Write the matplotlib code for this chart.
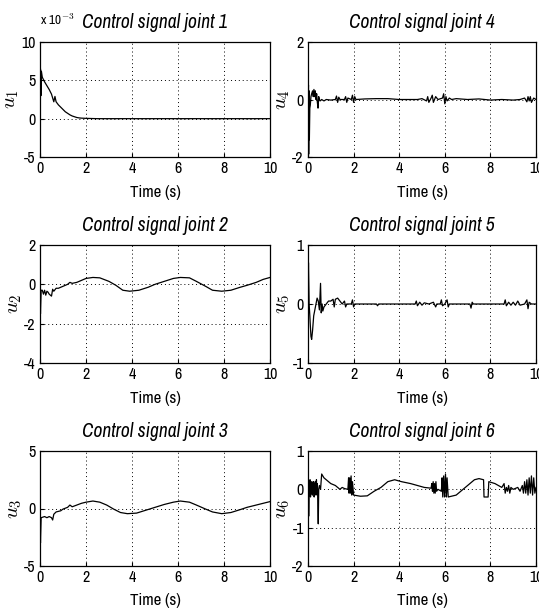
import numpy as np
import matplotlib
matplotlib.use('Agg')
import matplotlib.pyplot as plt

plt.rcParams['font.family'] = ['Archivo Narrow', 'DejaVu Sans']
plt.rcParams['mathtext.fontset'] = 'cm'
plt.rcParams['axes.unicode_minus'] = False

# (time, value) pairs
u1_pts = [(0, 0), (0.02, 6.5), (0.04, 3.0), (0.06, 6.2), (0.1, 5.4), (0.2, 4.8), (0.3, 4.3),
          (0.4, 3.8), (0.5, 3.2), (0.55, 2.7), (0.6, 2.2), (0.65, 2.9), (0.7, 2.2), (0.8, 1.8),
          (0.9, 1.5), (1.0, 1.2), (1.1, 0.9), (1.2, 0.7), (1.3, 0.5), (1.4, 0.35), (1.5, 0.25),
          (1.6, 0.15), (1.7, 0.1), (1.8, 0.07), (2.0, 0.04), (2.5, 0.0), (10, 0.0)]

u2_pts = [(0, 0), (0.02, -1.5), (0.05, -0.3), (0.1, -0.3), (0.15, -0.5), (0.2, -0.3), (0.25, -0.55),
          (0.3, -0.35), (0.35, -0.4), (0.4, -0.5), (0.45, -0.55), (0.5, -0.6), (0.55, -0.25),
          (0.6, -0.35), (0.7, -0.2), (0.8, -0.2), (1.0, -0.1), (1.2, 0.0), (1.3, 0.1), (1.4, 0.05),
          (1.6, 0.1), (1.8, 0.2), (2.0, 0.3), (2.3, 0.35), (2.6, 0.33), (3.0, 0.15), (3.3, -0.05),
          (3.6, -0.3), (3.9, -0.35), (4.3, -0.3), (4.7, -0.15), (5.0, 0.0), (5.4, 0.15), (5.8, 0.3),
          (6.1, 0.35), (6.5, 0.33), (6.8, 0.15), (7.2, -0.1), (7.5, -0.3), (7.9, -0.35),
          (8.3, -0.3), (8.7, -0.15), (9.0, -0.05), (9.4, 0.1), (9.7, 0.25), (10, 0.35)]

u3_pts = [(0, 0), (0.02, -3.0), (0.05, -0.8), (0.2, -0.7), (0.3, -0.8), (0.4, -0.7), (0.5, -0.8),
          (0.55, -1.0), (0.6, -0.5), (0.7, -0.3), (0.9, -0.2), (1.0, -0.05), (1.2, 0.1),
          (1.3, 0.3), (1.4, 0.15), (1.6, 0.3), (1.8, 0.45), (2.0, 0.55), (2.3, 0.65), (2.6, 0.55),
          (2.9, 0.3), (3.2, -0.05), (3.5, -0.35), (3.8, -0.45), (4.2, -0.4), (4.6, -0.15),
          (5.0, 0.1), (5.4, 0.35), (5.8, 0.55), (6.1, 0.65), (6.5, 0.55), (6.8, 0.3), (7.2, -0.05),
          (7.5, -0.3), (7.9, -0.45), (8.3, -0.35), (8.7, -0.1), (9.0, 0.1), (9.4, 0.3),
          (9.7, 0.45), (10, 0.6)]

u4_pts = [(0, 0), (0.02, 0.5), (0.03, -1.9), (0.05, 0.3), (0.06, -1.4), (0.08, -0.3),
          (0.1, -0.2), (0.13, 0.1), (0.16, 0.2), (0.2, 0.3), (0.23, 0.1), (0.26, 0.35),
          (0.29, 0.1), (0.32, 0.3), (0.35, 0.0), (0.38, 0.2), (0.41, -0.1), (0.44, -0.3),
          (0.47, 0.1), (0.5, 0.0), (0.53, -0.05), (0.6, 0.0), (0.7, -0.05), (0.8, 0.0),
          (1.0, -0.02), (1.2, 0.0), (1.25, 0.12), (1.3, -0.1), (1.35, 0.08), (1.4, 0.0),
          (1.6, 0.0), (1.65, 0.1), (1.7, -0.1), (1.75, 0.05), (1.9, 0.0), (1.95, 0.15),
          (2.0, -0.1), (2.05, 0.1), (2.1, 0.0), (2.5, 0.02), (3.0, 0.03), (3.5, 0.03),
          (4.0, 0.0), (4.5, 0.0), (4.8, 0.0), (5.0, 0.03), (5.2, -0.05), (5.25, 0.1),
          (5.3, -0.1), (5.4, 0.05), (5.45, 0.15), (5.5, -0.1), (5.6, 0.1), (5.7, 0.0),
          (5.9, 0.05), (5.95, 0.2), (6.0, -0.15), (6.05, 0.1), (6.1, -0.05), (6.2, 0.05),
          (6.3, 0.0), (6.5, 0.03), (7.0, 0.0), (7.5, 0.02), (8.0, -0.02), (8.5, 0.0),
          (9.0, -0.02), (9.3, 0.0), (9.5, 0.05), (9.6, -0.08), (9.65, 0.1), (9.7, -0.05),
          (9.75, 0.1), (9.8, -0.1), (9.9, 0.05), (10, 0.0)]

u5_pts = [(0, 0), (0.02, 0.7), (0.05, 0.0), (0.08, -0.2), (0.1, -0.35), (0.13, -0.55),
          (0.16, -0.6), (0.2, -0.45), (0.25, -0.2), (0.3, -0.1), (0.35, 0.0), (0.4, 0.1),
          (0.45, 0.05), (0.5, -0.1), (0.55, 0.35), (0.58, -0.15), (0.62, 0.0), (0.65, -0.12),
          (0.7, -0.05), (0.8, 0.0), (0.9, 0.05), (1.0, 0.05), (1.1, 0.08), (1.15, -0.05),
          (1.2, 0.08), (1.3, 0.1), (1.4, 0.05), (1.5, 0.0), (1.6, 0.05), (1.65, -0.05),
          (1.7, 0.0), (1.9, 0.0), (1.95, 0.07), (2.0, -0.05), (2.05, 0.0), (3.0, 0.0),
          (3.05, -0.03), (3.1, 0.0), (4.7, 0.0), (4.75, 0.05), (4.8, -0.03), (4.9, 0.03),
          (5.0, -0.02), (5.1, 0.02), (5.3, 0.0), (5.5, 0.03), (5.6, -0.05), (5.65, 0.0),
          (5.8, 0.0), (5.85, 0.07), (5.9, -0.03), (6.0, 0.0), (6.1, 0.07), (6.15, -0.05),
          (6.2, 0.0), (7.1, 0.0), (7.15, -0.07), (7.2, 0.03), (7.25, 0.0), (8.6, 0.0),
          (8.65, 0.07), (8.7, -0.03), (8.8, 0.03), (8.9, -0.02), (9.0, 0.03), (9.1, -0.02),
          (9.2, 0.05), (9.3, -0.02), (9.5, 0.0), (9.6, 0.07), (9.65, -0.08), (9.7, 0.03),
          (9.8, 0.0), (10, 0.0)]

u6_pts = [(0, 0), (0.02, 0.25), (0.03, -0.7), (0.05, 0.2), (0.07, -0.15), (0.09, 0.25),
          (0.11, -0.2), (0.13, 0.15), (0.15, -0.1), (0.17, 0.2), (0.19, -0.15), (0.21, 0.15),
          (0.23, -0.1), (0.25, 0.2), (0.27, -0.2), (0.29, 0.15), (0.31, -0.1), (0.33, 0.2),
          (0.35, -0.15), (0.37, 0.25), (0.39, -0.1), (0.41, 0.15), (0.43, -0.3), (0.45, -0.9),
          (0.47, 0.0), (0.5, 0.1), (0.55, 0.0), (0.6, 0.4), (0.7, 0.3), (0.8, 0.25), (0.9, 0.2),
          (1.0, 0.15), (1.2, 0.1), (1.3, 0.05), (1.4, 0.0), (1.5, 0.05), (1.6, 0.02),
          (1.75, 0.0), (1.78, 0.3), (1.8, -0.1), (1.83, 0.3), (1.86, -0.1), (1.89, 0.35),
          (1.92, -0.15), (1.95, 0.2), (2.0, -0.15), (2.3, -0.18), (2.6, -0.17), (2.9, -0.05),
          (3.2, 0.05), (3.5, 0.2), (3.8, 0.25), (4.1, 0.2), (4.5, 0.15), (4.8, 0.1),
          (5.1, 0.05), (5.4, 0.03), (5.43, 0.15), (5.46, -0.05), (5.49, 0.2), (5.52, -0.1),
          (5.55, 0.15), (5.58, -0.1), (5.61, 0.2), (5.64, -0.05), (5.7, 0.0), (5.85, -0.05),
          (5.88, 0.3), (5.91, -0.2), (5.95, 0.35), (5.99, -0.2), (6.03, 0.4), (6.07, -0.2),
          (6.1, 0.3), (6.15, -0.2), (6.5, -0.15), (6.8, 0.0), (7.1, 0.15), (7.3, 0.25),
          (7.5, 0.28), (7.7, 0.25), (7.72, -0.2), (7.9, -0.2), (7.93, 0.2), (8.2, 0.15),
          (8.5, 0.05), (8.6, 0.15), (8.65, -0.1), (8.7, 0.05), (8.75, -0.05), (8.8, 0.1),
          (8.85, -0.1), (8.9, 0.05), (9.0, 0.0), (9.2, 0.05), (9.3, -0.05), (9.4, 0.1),
          (9.45, -0.1), (9.5, 0.2), (9.55, -0.1), (9.6, 0.25), (9.65, -0.15), (9.7, 0.3),
          (9.75, -0.1), (9.8, 0.35), (9.85, -0.15), (9.9, 0.3), (9.95, -0.1), (10, 0.05)]

signals = [u1_pts, u2_pts, u3_pts, u4_pts, u5_pts, u6_pts]
ylims = [(-5, 10), (-4, 2), (-5, 5), (-2, 2), (-1, 1), (-2, 1)]
yticks = [[-5, 0, 5, 10], [-4, -2, 0, 2], [-5, 0, 5], [-2, 0, 2], [-1, 0, 1], [-2, -1, 0, 1]]

fig = plt.figure(figsize=(5.39, 6.15), dpi=100)
W, H = 539.0, 615.0
col_x = [(40, 270), (308, 536)]
row_y = [(42, 157), (245, 363), (451, 566)]

for i, pts in enumerate(signals):
    col, row = i // 3, i % 3
    x0, x1 = col_x[col]
    y0, y1 = row_y[row]
    ax = fig.add_axes([x0 / W, 1 - y1 / H, (x1 - x0) / W, (y1 - y0) / H])
    arr = np.array(pts)
    ax.plot(arr[:, 0], arr[:, 1], color='black', lw=0.9)
    ax.set_xlim(0, 10)
    ax.set_ylim(*ylims[i])
    ax.set_xticks([0, 2, 4, 6, 8, 10])
    ax.set_yticks(yticks[i])
    ax.grid(True, color='black', linestyle=(0, (1, 3)), lw=0.7)
    ax.tick_params(direction='in', length=3, labelsize=11.5, pad=3)
    for s in ax.spines.values():
        s.set_linewidth(0.9)
    ax.set_title('Control signal joint %d' % (i + 1), fontsize=14, style='italic', pad=10)
    ax.set_xlabel('Time (s)', fontsize=12, labelpad=6)
    ax.set_ylabel('$u_%d$' % (i + 1), fontsize=15, labelpad=0)
    if i == 0:
        ax.text(0.0, 1.13, r'x 10$^{-3}$', transform=ax.transAxes, fontsize=9.5,
                ha='left', va='bottom')

fig.savefig('out.png', dpi=100)
